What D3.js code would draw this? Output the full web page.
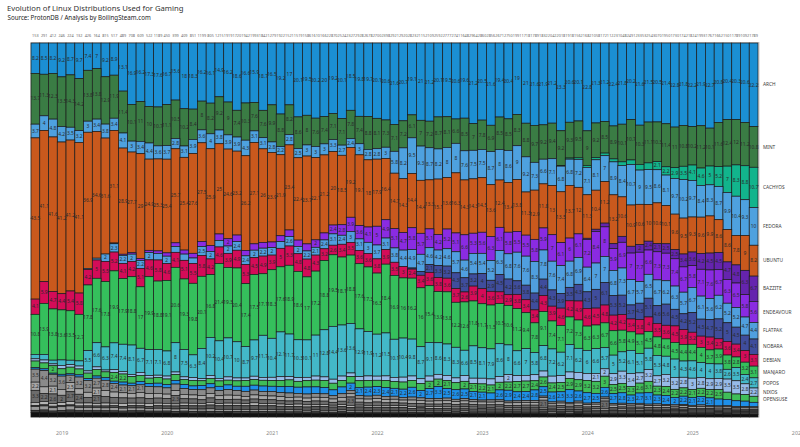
<!DOCTYPE html>
<html><head><meta charset="utf-8">
<script src="https://cdn.jsdelivr.net/npm/d3@7"></script>
<style>body{margin:0;background:#fff}svg{display:block}text{font-family:"Noto Sans",sans-serif}</style>
</head><body><svg id="c" width="800" height="447"></svg>
<script>
const START = new Date(2018, 9, 1), END = new Date(2025, 8, 1);
const months = d3.timeMonth.range(START, END);
const years = [2019, 2020, 2021, 2022, 2023, 2024, 2025, 2026];
const counts = [153,291,412,246,224,132,426,164,815,517,489,708,609,522,1189,450,399,409,851,1199,805,1215,1919,1720,1942,1993,1842,1279,1922,1521,1519,1586,1610,1662,2870,2524,2327,2928,2678,2700,2398,2921,2920,2823,2115,2109,2592,2777,2741,1648,2964,2860,2856,2671,2750,1991,1718,1789,1832,2042,2018,1918,1562,1682,1058,1721,1223,1048,2491,2335,3254,3070,1950,1730,1742,1824,1993,1767,1662,1501,1789,1092,1789];

const ARCH = [8.2,8.5,8.2,9.2,8.7,9.7,7.4,7,9.2,8.9,
13.1,16.9,16.2,17.3,17.6,16.7,15.6,18,18.3,16.2,
16.1,14.9,16.2,18.6,16.6,15.9,18.7,16.5,19.2,17,
20.1,19.5,20.2,20,19.2,20.1,18.5,19.8,19.7,20.1,
20.6,21.6,20.7,19.1,21,21.2,20.1,19.5,20.6,19.6,
21.2,20.5,21.6,19.4,20.4,19,21,21.6,21.9,21.2,
23.3,20.6,20.1,22.8,21.3,21.2,22.4,21.8,20.2,21.6,
21.5,20.5,21.4,22.8,21.8,22.2,21.9,22.7,20.8,20.4,
20.3,20.6,22.2];
const MINT = [13.7,11.3,12.3,13.5,14.3,14.2,13.8,13.8,12.9,11.9,
11.4,10.1,11,10,10.7,11.1,10.5,10.2,8.4,8,
8.2,9.2,9,7.4,10.3,7.6,7.6,9.9,8.8,8.2,
8.6,8,7.6,7.4,7.1,7.1,7.8,7.4,8.8,8.1,
7.3,7.1,7.2,6.1,7,7.2,8.7,8.1,6.6,8.5,
7,7.8,6.9,8.5,8.5,8.3,8.8,9.7,9.2,9.4,
9.2,9.3,9.5,9,9.2,8.5,8.9,10.1,10.7,10.3,
11.1,10.3,11.4,11,10.8,10.2,11.2,10.1,11.6,12.4,
12,11.2,10.8];
const CACHYOS = [0,0,0,0,0,0,0,0,0,0,
0,0,0,0,0,0,0,0,0,0,
0,0,0,0,0,0,0,0,0,0,
0,0,0,0,0,0,0,0,0,0,
0,0,0,0,0,0,0,0,0,0,
0,0,0,0,0,0,0,0,0,0,
0.2,0.3,0.4,0.5,0.6,0.7,0.8,1.0,1.2,1.5,
1.8,2.1,2.2,2.9,3.5,4.1,4.6,5,5.2,7,
8.3,8.8,10.7];
const FEDORA = [3.7,4,4.8,4.2,3.5,3.2,3,3.4,3.8,3.4,
4.1,3,3.4,4.4,3.6,3.7,2.8,3.1,3.9,3.6,
4,3.8,3.9,3.9,4.3,3.1,3.1,2.8,2.2,2.8,
2.5,3,3,3,3.3,2.7,2.4,3,2.8,2.8,
3,5.8,8.2,9.5,9.3,8.7,8.2,8,8,7.6,
7.5,7.5,8.7,8,8.6,9,9.2,7.3,6.6,7.1,
6.8,6.8,7.2,7.1,8.1,7,8.9,8.4,10.7,9,
9.5,8.6,8.1,9.7,10.2,9.7,8.4,8.3,8.7,9.9,
10.4,9.3,10];
const UBUNTU = [43.5,41.1,41.6,41.2,41.2,41.1,36.9,34.6,31.6,31.1,
28.9,27.7,29,24.9,25.3,25.4,25.7,25.4,27.6,27.5,
25.9,25,24.6,23.2,26.2,27.1,26,23.9,21.9,23.4,
22.4,23.7,22.1,21.2,20,18.5,19.2,19.1,18,17.9,
16.4,14.7,14.3,14.4,14.4,13.3,15.1,13.6,16.3,14.3,
14.3,14.5,13.6,12.4,13.4,13.8,11.3,12.9,11.8,13,
13.5,13.7,12,11.3,10.4,11.2,13.2,10.6,10.9,10.6,
10,10.6,10.1,9.6,9.5,9.3,9.6,9.9,8.6,8.6,
7.8,9,8.2];
const BAZZITE = [0,0,0,0,0,0,0,0,0,0,
0,0,0,0,0,0,0,0,0,0,
0,0,0,0,0,0,0,0,0,0,
0,0,0,0,0,0,0,0,0,0,
0,0,0,0,0,0,0,0,0,0,
0,0,0,0,0,0,0,0,0,0,
0,0,0,0.3,0.6,1.0,1.3,1.6,1.8,2.0,
2.4,2.1,2.5,2.5,3.4,3.6,4.2,4.5,4.5,4.7,
4.8,6.3,6.7];
const ENDEAVOUR = [0,0,0,0,0,0,0,0,0,0.2,
0.3,0.4,0.5,0.6,0.7,0.9,1.0,1.1,1.3,1.4,
1.6,1.8,2.0,1.8,1.5,1.7,1.6,1.5,1.6,1.8,
1.7,1.9,2.0,1.9,2.4,2.8,3.9,3.6,4.1,5,
4.9,5.1,4.7,5.8,5.7,5.1,4.2,5.2,5.1,6.6,
5.3,5.6,6.3,6.1,5.8,5.5,5.5,5.8,5.9,7,
6.1,6,6.1,7.2,8.4,8,5.9,6.9,7,7.7,
6.6,7.3,7.3,7.4,6.7,5.8,7.1,7.6,6.7,6.3,
6.5,5.8,5.6];
const FLATPAK = [0,0,0,0,0,0,0.3,0.5,2.0,2.3,
2.2,2.0,2.2,2.0,1.8,2.0,1.6,1.7,1.5,2.5,
2.0,1.8,2.0,2.4,2.4,2.0,2.2,2.0,1.8,2.6,
2.0,2.2,2.1,2.4,3.1,2.4,3,3.1,3,3.7,
3.1,3.8,4.4,4.9,4.7,4.6,4.2,4.6,5.7,4.6,
5.4,5.4,5.2,6.3,6.8,7.6,7.6,8.3,7.8,7.6,
7.4,6.8,6.9,6.4,7,7,6.8,7.3,6.7,5.7,
6.5,6.7,6.2,6.3,5.7,6.7,6.1,5.6,6.2,5.2,
5.2,4.7,4.4];
const NOBARA = [0,0,0,0,0,0,0,0,0,0,
0,0,0,0,0,0,0,0,0,0,
0,0,0,0,0,0,0,0,0,0,
0,0,0,0,0,0,0,0,0,0,
0,0,0,0.3,1.0,2.1,3.3,3.2,4.3,3.7,
3.2,4,2.9,4.5,4.2,3.6,3.8,4.4,4.4,4.3,
3.9,3.5,4.3,4.3,5,6.1,5.3,5.2,3.7,4.3,
5.1,4.6,5.6,4.5,4.2,5.2,4.5,4.7,5.2,5,
4.5,4,4.1];
const DEBIAN = [4.1,5.9,4.7,4.4,5.4,5.8,4.2,5,5.5,5.2,
4.1,4.2,5.1,4.6,5.8,4.6,4.1,5.1,5.5,5.8,
4.2,4.6,3.9,4.9,5.3,4.5,4.9,3.9,5,5.3,
4.8,4.8,4.3,3.2,2.6,3.4,3.5,3.6,3.6,3.8,
3.9,3.5,3,2.4,3.4,3.6,3.8,3.6,3.7,2.6,
3.9,4,3.6,3.1,2.9,3.8,3.4,3.4,4.3,3.9,
4.6,4.2,4.9,4.6,4.5,4.8,4.2,4.2,3.4,3.8,
4,3.5,3.6,4.5,3.9,3.2,3,3.4,2.7,3.6,
3.4,3,3.1];
const MANJARO = [10.8,13.9,13.8,13.6,13.5,12.7,17.8,17.6,17.8,19.9,
17.9,18.8,17,19.9,18.8,19.1,20.6,19.3,19.8,20.1,
16.8,21.4,19.3,20.4,17.4,17.5,17.1,18.3,17.6,18.9,
18.6,17,17.2,18.8,19.5,18.1,18.8,17.6,17.3,16.3,
18.4,16.9,16,16.2,16,15.4,13.9,13.8,12.2,12.6,
11.8,11.7,11.5,10.5,10.6,11.2,9.4,7.8,9.1,7.4,
7.1,7.2,7.3,6.3,6.3,6.7,6.6,5.8,4.9,5.1,
4.5,4.8,4.6,4.5,4.4,4.4,4,3.7,3.9,3.8,
2.8,3.2,3.1];
const POPOS = [1.2,1.5,1.0,1.5,1.2,1.4,5.5,6.6,6.3,7.4,
7.4,8.1,6.7,7.1,7.1,6.8,8,7.5,6.3,8.4,
10.2,10.4,10.7,10,8.7,9.7,11.7,10.4,12.1,11.7,
10.3,10.1,11,12.8,14.4,13.6,13.6,12.9,11.9,11.2,
11.5,10.1,10.4,9.8,8.7,9.1,8.6,8.3,8.3,6.6,
8.5,8.1,7.9,8.6,8,6.6,7,5.8,6.8,7.2,
6.2,7.1,6.2,6,6.6,5.7,5,5.2,6.1,5.1,
5.8,5.3,4.8,5,4.3,4.6,4,4,3.8,2.6,
3.5,2.4,2.7];
const NIXOS = [0.6,0.8,0.5,0.9,0.7,0.8,0.6,0.7,0.5,0.8,
0.7,0.6,0.8,0.7,0.6,0.8,0.7,0.7,0.8,0.6,
0.8,0.7,0.9,0.8,0.7,0.9,0.8,0.9,1.0,0.9,
1.0,0.9,1.1,1.0,1.1,1.2,1.0,1.1,1.2,1.1,
1.2,1.1,1.3,1.2,1.3,1.4,1.3,1.4,1.3,1.5,
1.4,1.5,1.6,1.5,2,1.6,1.5,1.6,1.6,1.8,
1.8,1.7,1.9,1.8,2.1,2,2.9,3.3,3.4,2.7,
3.2,2.7,3.2,3.2,2.8,3,2.8,2.9,2.9,3.5,
3.5,2.8,2.2];
const OPENSUSE = [1.8,1.6,2,1.5,1.8,1.6,1.5,1.8,1.6,2.4,
2.2,1.8,1.7,1.5,1.6,1.5,1.6,1.4,1.5,1.3,
1.4,1.5,1.3,1.5,1.6,1.5,1.6,1.5,1.7,1.8,
1.6,1.7,1.8,1.9,1.8,1.7,1.8,1.9,1.8,1.7,
1.9,1.8,1.9,1.8,1.9,2,2,2.1,1.9,2,
2.1,2.2,2.1,2,2.2,2.7,2.7,2.4,2.6,2.4,
2.5,2.9,2.9,3.2,3.2,3,2.5,2.5,2.3,2.6,
3.1,2.3,2.4,2.2,2.2,2.1,2.2,2.2,2.5,1.9,
1.8,1.7,1.6];
const STEAMOS = [0.4,0.5,0.3,0.5,0.4,0.6,0.5,0.6,0.7,0.6,
0.8,0.7,0.9,0.8,1.0,0.9,1.0,1.1,1.0,1.2,
1.1,1.2,1.3,1.2,1.4,1.3,1.5,1.4,1.6,1.8,
1.7,1.9,1.8,1.7,1.6,1.8,2,2.1,2.4,2.3,
2.4,2.1,2.2,2.6,2,2.7,3.3,2.5,2.6,2.5,
2.1,2.1,1.8,2.6,2.9,2.4,2.4,2.8,2.5,2.6,
2.5,3.3,2.6,2.7,2.5,2.6,2.7,2.8,2.3,2.7,
3.1,2.3,2.4,2.0,2.2,2.1,2.2,2.1,1.8,1.7,
1.5,1.4,1.2];
const SOLUS = [3.5,4.4,3.2,3.6,2.0,3.2,3.2,2.7,2.8,2.4,
2.1,2.1,2.1,1.9,1.8,1.7,1.8,1.6,1.5,1.6,
1.5,1.4,1.5,1.3,1.4,1.3,1.2,1.2,1.1,1.2,
1.0,1.1,1.0,1.0,0.9,1.0,0.9,0.9,0.8,0.9,
0.8,0.8,0.7,0.8,0.7,0.7,0.6,0.7,0.6,0.6,
0.6,0.5,0.6,0.5,0.5,0.5,0.5,0.5,0.4,0.5,
0.5,0.4,0.5,0.4,0.4,0.5,0.4,0.4,0.4,0.4,
0.4,0.4,0.3,0.4,0.3,0.3,0.4,0.3,0.3,0.3,
0.3,0.3,0.3];
const GENTOO = [2.2,1.8,2.1,1.6,2.5,1.5,1.4,2.1,1.6,1.5,
1.4,1.3,1.5,1.4,1.3,1.2,1.3,1.2,1.1,1.2,
1.2,1.1,1.2,1.1,1.0,1.1,1.1,1.0,1.1,1.0,
1.0,0.9,1.0,1.0,0.9,1.0,0.9,0.9,1.0,0.9,
0.9,0.9,0.8,0.9,0.8,0.8,0.9,0.8,0.8,0.8,
0.7,0.8,0.7,0.8,0.7,0.7,0.7,0.7,0.7,0.6,
0.7,0.6,0.7,0.6,0.6,0.6,0.6,0.6,0.5,0.6,
0.5,0.5,0.5,0.5,0.5,0.5,0.5,0.4,0.5,0.4,
0.4,0.4,0.4];
const ZORIN = [3.3,2.2,2.6,2.0,2.7,2.4,1.5,2.1,1.8,1.6,
1.5,1.4,1.5,1.3,1.4,1.3,2.3,1.2,1.2,1.1,
1.2,1.1,1.0,1.1,1.0,1.0,1.1,1.0,0.9,1.0,
0.9,0.9,1.0,0.9,0.8,0.9,2.3,0.8,0.8,0.9,
0.8,0.8,0.7,0.8,0.8,0.7,0.7,0.8,0.7,0.7,
0.7,0.6,0.7,0.6,0.6,0.6,0.6,0.6,2.1,0.6,
0.6,0.5,0.6,0.5,0.6,2.1,0.5,0.5,0.5,0.5,
0.5,0.5,0.5,0.4,0.5,0.4,0.4,0.4,0.4,0.4,
0.4,0.3,0.3];
const VOID = [0.8,0.9,0.7,0.8,0.9,0.8,0.8,0.7,0.8,0.7,
0.8,0.7,0.7,0.8,0.7,0.7,0.6,0.7,0.7,0.6,
0.7,0.6,0.7,0.6,0.6,0.7,0.6,0.6,0.6,0.5,
0.6,0.6,0.5,0.6,0.5,0.5,0.6,0.5,0.5,0.5,
0.5,0.5,0.5,0.5,0.4,0.5,0.5,0.4,0.5,0.4,
0.5,0.4,0.4,0.5,0.4,0.4,0.4,0.4,0.4,0.4,
0.4,0.4,0.4,0.3,0.4,0.4,0.3,0.4,0.3,0.4,
0.3,0.3,0.3,0.3,0.3,0.3,0.3,0.3,0.3,0.3,
0.3,0.3,0.3];
const GARUDA = [0.3,0.3,0.4,0.3,0.3,0.4,0.4,0.4,0.5,0.5,
0.5,0.6,0.6,0.6,0.7,0.7,0.8,0.8,0.9,0.9,
1.0,1.0,1.0,1.1,1.0,1.1,1.0,1.0,1.0,0.9,
1.0,0.9,0.9,1.0,0.9,0.9,0.8,0.9,0.8,0.8,
0.8,0.8,0.8,0.7,0.8,0.7,0.7,0.7,0.7,0.7,
0.6,0.7,0.6,0.6,0.6,0.6,0.6,0.6,0.6,0.5,
0.6,0.5,0.5,0.5,0.5,0.5,0.5,0.5,0.5,0.4,
0.5,0.4,0.4,0.4,0.4,0.4,0.4,0.4,0.3,0.4,
0.3,0.3,0.3];
const ELEMENTARY = [1.0,1.1,0.9,1.0,1.1,0.9,0.9,0.9,0.8,0.9,
0.8,0.8,0.8,0.7,0.8,0.7,0.7,0.7,0.7,0.6,
0.7,0.6,0.6,0.6,0.6,0.6,0.6,0.6,0.5,0.6,
0.5,0.5,0.5,0.5,0.5,0.5,0.5,0.5,0.4,0.5,
0.4,0.4,0.4,0.4,0.4,0.4,0.4,0.4,0.4,0.4,
0.4,0.4,0.4,0.4,0.4,0.4,0.4,0.4,0.3,0.4,
0.3,0.4,0.3,0.3,0.3,0.3,0.3,0.3,0.3,0.3,
0.3,0.3,0.3,0.3,0.3,0.3,0.3,0.3,0.3,0.3,
0.3,0.3,0.3];
const KDENEON = [0.6,0.6,0.5,0.6,0.6,0.5,0.6,0.5,0.6,0.5,
0.5,0.6,0.5,0.5,0.5,0.5,0.5,0.5,0.5,0.5,
0.5,0.5,0.4,0.5,0.5,0.4,0.5,0.4,0.4,0.5,
0.4,0.4,0.4,0.4,0.4,0.4,0.4,0.4,0.4,0.4,
0.4,0.4,0.4,0.4,0.4,0.4,0.3,0.4,0.3,0.4,
0.3,0.3,0.3,0.3,0.3,0.3,0.3,0.3,0.3,0.3,
0.3,0.3,0.3,0.3,0.3,0.3,0.3,0.3,0.3,0.3,
0.3,0.3,0.3,0.3,0.3,0.3,0.2,0.3,0.2,0.3,
0.2,0.2,0.2];
const OTHER = [1.2,1.3,1.1,1.2,1.3,1.2,1.1,1.2,1.1,1.2,
1.1,1.1,1.2,1.1,1.1,1.1,1.0,1.1,1.0,1.1,
1.0,1.0,1.1,1.0,1.0,1.0,1.0,1.0,1.0,0.9,
1.0,0.9,1.0,0.9,0.9,1.0,0.9,0.9,0.9,0.9,
0.9,0.9,0.9,0.8,0.9,0.8,0.9,0.8,0.8,0.8,
0.8,0.8,0.8,0.8,0.8,0.8,0.8,0.8,0.8,0.7,
0.8,0.7,0.8,0.7,0.7,0.7,0.7,0.7,0.7,0.7,
0.7,0.7,0.7,0.7,0.7,0.6,0.7,0.6,0.6,0.6,
0.6,0.6,0.6];

const series = [
  {key:"ARCH", values:ARCH, color:"#1b8fd3", label:true},
  {key:"MINT", values:MINT, color:"#3a7c44", label:true},
  {key:"CACHYOS", values:CACHYOS, color:"#12b48c", label:true},
  {key:"FEDORA", values:FEDORA, color:"#4ea1df", label:true},
  {key:"UBUNTU", values:UBUNTU, color:"#c9591d", label:true},
  {key:"BAZZITE", values:BAZZITE, color:"#6524ae", label:true},
  {key:"ENDEAVOUR", values:ENDEAVOUR, color:"#8a2be2", label:true},
  {key:"FLATPAK", values:FLATPAK, color:"#509fde", label:true},
  {key:"NOBARA", values:NOBARA, color:"#3f4d9c", label:true},
  {key:"DEBIAN", values:DEBIAN, color:"#d40c58", label:true},
  {key:"MANJARO", values:MANJARO, color:"#35bf5c", label:true},
  {key:"POPOS", values:POPOS, color:"#43b8c8", label:true},
  {key:"NIXOS", values:NIXOS, color:"#97bbe8", label:true},
  {key:"OPENSUSE", values:OPENSUSE, color:"#3fbd58", label:true},
  {key:"STEAMOS", values:STEAMOS, color:"#1e8fe8", label:false},
  {key:"SOLUS", values:SOLUS, color:"#8a8a8a", label:false},
  {key:"GENTOO", values:GENTOO, color:"#a6a6a6", label:false},
  {key:"ZORIN", values:ZORIN, color:"#6c6c6c", label:false},
  {key:"VOID", values:VOID, color:"#b4b4b4", label:false},
  {key:"GARUDA", values:GARUDA, color:"#575757", label:false},
  {key:"ELEMENTARY", values:ELEMENTARY, color:"#9a9a9a", label:false},
  {key:"KDENEON", values:KDENEON, color:"#404040", label:false},
  {key:"OTHER", values:OTHER, color:"#121212", label:false}
];
series.forEach(s => { if (s.values.length !== months.length) throw new Error(s.key + " has " + s.values.length); });

const rows = months.map((m, i) => { const r = {date: m}; series.forEach(s => r[s.key] = s.values[i]); return r; });
const layers = d3.stack().keys(series.map(s => s.key)).offset(d3.stackOffsetExpand)(rows);

const svg = d3.select("#c");
const L = 31, R = 758, T = 43, B = 417;
const x = d3.scaleLinear().domain([-0.5, months.length - 0.5]).range([L, R]);
const y = d3.scaleLinear().domain([0, 1]).range([T, B]);
const bw = x(1) - x(0);

svg.append("text").attr("x", 7).attr("y", 11).attr("font-size", 7.7).attr("fill", "#333")
  .text("Evolution of Linux Distributions Used for Gaming");
svg.append("text").attr("x", 7.5).attr("y", 20).attr("font-size", 6.2).attr("fill", "#222")
  .text("Source: ProtonDB / Analysis by BoilingSteam.com");

svg.append("rect").attr("x", L).attr("y", T - 0.5).attr("width", R - L + 1).attr("height", B - T + 0.5)
  .attr("fill", "none").attr("stroke", "#c8c8c8").attr("stroke-width", 1);

const gBars = svg.append("g");
layers.forEach((layer, li) => {
  gBars.append("g").selectAll("rect").data(layer).join("rect")
    .attr("x", (d, i) => x(i - 0.5)).attr("width", bw)
    .attr("y", d => y(d[0])).attr("height", d => Math.max(0, y(d[1]) - y(d[0])))
    .attr("fill", series[li].color).attr("stroke", "#1a1a1a").attr("stroke-width", 0.7);
});

const gLab = svg.append("g").attr("font-size", 4.9).attr("fill", "#2a2a2a").attr("text-anchor", "middle");
layers.forEach((layer, li) => {
  const vals = series[li].values;
  gLab.append("g").selectAll("text").data(layer.map((d, i) => ({d, i, v: vals[i]})).filter(o => o.v >= 2)).join("text")
    .attr("x", o => x(o.i)).attr("y", o => (y(o.d[0]) + y(o.d[1])) / 2).attr("dy", "0.35em")
    .text(o => String(o.v));
});

svg.append("g").attr("font-size", 3.8).attr("fill", "#666").attr("text-anchor", "middle")
  .selectAll("text").data(counts).join("text")
  .attr("x", (d, i) => x(i)).attr("y", 37).text(d => d);

const last = months.length - 1;
svg.append("g").attr("font-size", 4.8).attr("fill", "#3a3a3a")
  .selectAll("text").data(layers.filter((l, li) => series[li].label)).join("text")
  .attr("x", R + 5).attr("y", l => (y(l[last][0]) + y(l[last][1])) / 2).attr("dy", "0.35em")
  .text(l => l.key);

const yearIdx = years.map(yr => (yr - START.getFullYear()) * 12 - START.getMonth());
const ax = svg.append("g").attr("transform", `translate(0,${B + 14})`)
  .call(d3.axisBottom(x).tickValues(yearIdx).tickFormat((d, i) => years[i]).tickSize(0).tickPadding(0));
ax.select(".domain").remove();
ax.selectAll("text").attr("font-size", 5.3).attr("fill", "#888").attr("font-family", '"Noto Sans",sans-serif');
</script></body></html>
